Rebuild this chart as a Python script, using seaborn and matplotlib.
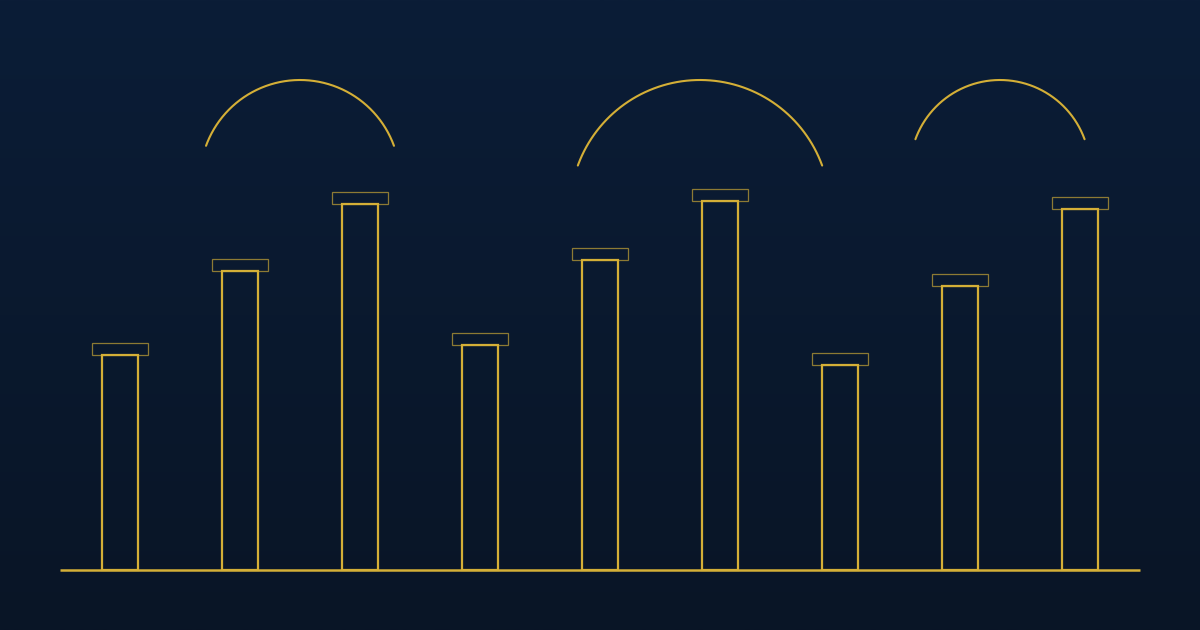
import numpy as np
import pandas as pd
import matplotlib
matplotlib.use('Agg')
import matplotlib.pyplot as plt
import seaborn as sns

# bar heights (in pixel-ish units above the base line)
columns = ['c1', 'c2', 'c3', 'c4', 'c5', 'c6', 'c7', 'c8', 'c9']
heights = [215, 299, 366, 225, 310, 369, 205, 284, 361]

# arcs over the columns: centre (px), centre height, radius
arc_cx = [300, 700, 1000]
arc_cy = [390, 360, 400]
arc_r = [100, 130, 90]

gold = '#d4af37'
bg_top = '#0b1d37'
bg_bottom = '#091526'

df = pd.DataFrame({'column': columns, 'height': heights})

sns.set_style('white')
fig = plt.figure(figsize=(12, 6.3), dpi=100)
ax = fig.add_axes([0, 0, 1, 1])

# background gradient
grad = np.linspace(0, 1, 256).reshape(-1, 1)
cmap = matplotlib.colors.LinearSegmentedColormap.from_list('bg', [bg_top, bg_bottom])
ax.imshow(grad, extent=[-1, 9, -60, 570], aspect='auto', cmap=cmap, origin='upper', zorder=0)

sns.barplot(data=df, x='column', y='height', ax=ax, width=0.3,
            facecolor=(0, 0, 0, 0), edgecolor=gold, linewidth=1.6, zorder=3)

# capitals on top of each column
ax.bar(np.arange(len(heights)), 12, width=0.4667, bottom=np.array(heights),
       facecolor='none', edgecolor=gold, linewidth=0.9, alpha=0.65, zorder=2)

# base line
ax.plot([-0.5, 8.5], [0, 0], color=gold, linewidth=1.8, solid_capstyle='butt', zorder=4)

# arcs
t = np.radians(np.linspace(20, 160, 200))
for cx, cy, r in zip(arc_cx, arc_cy, arc_r):
    xs = (cx + r * np.cos(t)) / 120 - 1
    ys = cy + r * np.sin(t)
    ax.plot(xs, ys, color=gold, linewidth=1.5, zorder=4)

ax.set_xlim(-1, 9)
ax.set_ylim(-60, 570)
ax.axis('off')

fig.savefig('out.png', dpi=100)
